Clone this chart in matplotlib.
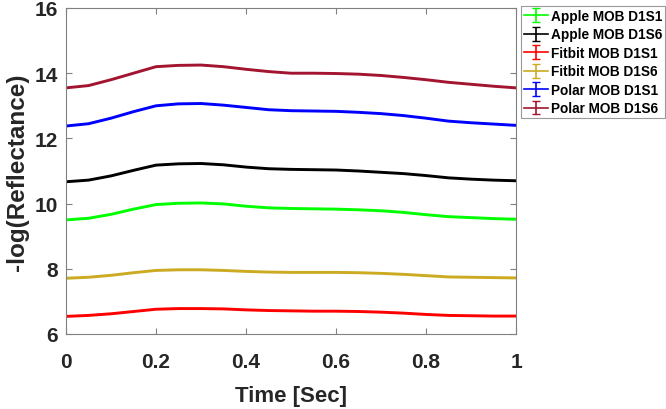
import matplotlib
matplotlib.use("Agg")
import matplotlib.pyplot as plt
import numpy as np

plt.rcParams['font.family'] = ['Liberation Sans', 'DejaVu Sans']

t = [0, 0.05, 0.1, 0.15, 0.2, 0.25, 0.3, 0.35, 0.4, 0.45, 0.5,
     0.55, 0.6, 0.65, 0.7, 0.75, 0.8, 0.85, 0.9, 0.95, 1.0]

apple_d1s1 = [9.5, 9.55, 9.67, 9.83, 9.97, 10.01, 10.02, 9.99, 9.92, 9.87, 9.85,
              9.84, 9.83, 9.81, 9.78, 9.73, 9.66, 9.6, 9.57, 9.54, 9.52]
apple_d1s6 = [10.67, 10.72, 10.85, 11.02, 11.18, 11.22, 11.23, 11.19, 11.12, 11.07, 11.05,
              11.04, 11.03, 11.0, 10.96, 10.92, 10.86, 10.79, 10.75, 10.72, 10.7]
fitbit_d1s1 = [6.54, 6.57, 6.62, 6.69, 6.76, 6.78, 6.78, 6.77, 6.74, 6.72, 6.71,
               6.7, 6.7, 6.69, 6.67, 6.64, 6.6, 6.57, 6.56, 6.55, 6.55]
fitbit_d1s6 = [7.71, 7.74, 7.8, 7.88, 7.95, 7.97, 7.97, 7.95, 7.92, 7.9, 7.89,
               7.89, 7.89, 7.88, 7.86, 7.83, 7.79, 7.75, 7.74, 7.73, 7.72]
polar_d1s1 = [12.38, 12.45, 12.62, 12.82, 13.0, 13.06, 13.07, 13.02, 12.95, 12.88, 12.85,
              12.84, 12.83, 12.8, 12.76, 12.7, 12.62, 12.53, 12.48, 12.44, 12.4]
polar_d1s6 = [13.55, 13.62, 13.8, 14.0, 14.2, 14.24, 14.25, 14.2, 14.12, 14.05, 14.0,
              14.0, 13.99, 13.97, 13.93, 13.87, 13.8, 13.72, 13.66, 13.6, 13.55]

labels = ['Apple MOB D1S1', 'Apple MOB D1S6', 'Fitbit MOB D1S1',
          'Fitbit MOB D1S6', 'Polar MOB D1S1', 'Polar MOB D1S6']
series = [apple_d1s1, apple_d1s6, fitbit_d1s1, fitbit_d1s6, polar_d1s1, polar_d1s6]
colors = ['#00FF00', '#000000', '#FF0000', '#CCAA22', '#0000FF', '#A2142F']

xticks = [0, 0.2, 0.4, 0.6, 0.8, 1]
xticklabels = ['0', '0.2', '0.4', '0.6', '0.8', '1']
yticks = [6, 8, 10, 12, 14, 16]

fig = plt.figure(figsize=(6.66, 4.10), dpi=100)
ax = fig.add_axes([66/666, 1-335/410, (516-66)/666, (335-9)/410])

handles = []
for y, c, lab in zip(series, colors, labels):
    ax.plot(t, y, color=c, lw=2.1)
    h = ax.errorbar([np.nan], [np.nan], yerr=[1], color=c, lw=1.2, capsize=3, label=lab)
    handles.append(h)

ax.set_xlim(0, 1)
ax.set_ylim(6, 16)
ax.set_xticks(xticks)
ax.set_xticklabels(xticklabels)
ax.set_yticks(yticks)

axcol = '#808080'
txtcol = '#262626'
for s in ax.spines.values():
    s.set_color(axcol)
    s.set_linewidth(0.8)
ax.tick_params(direction='in', length=4, width=0.8, color=axcol, top=True, right=True,
               labelsize=15, labelcolor=txtcol)
ax.tick_params(axis='x', pad=13)
ax.tick_params(axis='y', pad=6)
for lbl in ax.get_xticklabels() + ax.get_yticklabels():
    lbl.set_fontweight('bold')

ax.set_xlabel('Time [Sec]', fontsize=16, fontweight='bold', color=txtcol, labelpad=10)
ax.set_ylabel('-log(Reflectance)', fontsize=17.5, fontweight='bold', color=txtcol, labelpad=4)

leg = fig.legend(handles=handles, labels=labels, loc='upper left',
                 bbox_to_anchor=(521/666, 1-7/410), bbox_transform=fig.transFigure,
                 frameon=True, fancybox=False, edgecolor=axcol,
                 prop={'weight': 'bold', 'size': 9.8}, handlelength=1.8,
                 handletextpad=0.15, borderpad=0.22, labelspacing=0.33, borderaxespad=0)
leg.get_frame().set_linewidth(0.8)
for txt in leg.get_texts():
    txt.set_color('#000000')

fig.savefig('out.png', dpi=100)
